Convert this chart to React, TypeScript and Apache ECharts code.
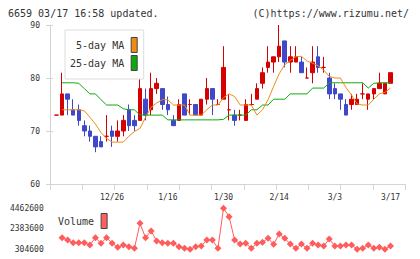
import React, { useEffect, useRef } from "react";
import * as echarts from "echarts";

const dates = ["12/12","12/13","12/16","12/17","12/18","12/19","12/20","12/23","12/24","12/25","12/26","12/27","12/30","1/6","1/7","1/8","1/9","1/10","1/14","1/15","1/16","1/17","1/20","1/21","1/22","1/23","1/24","1/27","1/28","1/29","1/30","1/31","2/3","2/4","2/5","2/6","2/7","2/10","2/12","2/13","2/14","2/17","2/18","2/19","2/20","2/21","2/25","2/26","2/27","2/28","3/3","3/4","3/5","3/6","3/7","3/10","3/11","3/12","3/13","3/14","3/17"];

const labelDates = ["12/26", "1/16", "1/30", "2/14", "3/3", "3/17"];

// [open, close, low, high]
const candles = [
  [73,73,73,73],[73,77,73,81],[77,76,73,77],[74,73,73,76],[74,72,71,75],
  [71,70,69,72],[70,69,68,71],[69,67,66,69],[68,67,67,69],[69,69,68,73],
  [70,69,67,71],[69,70,68,72],[70,72,69,73],[74,71,70,75],[72,71,70,73],
  [72,78,72,81],[76,73,72,78],[74,78,73,81],[78,79,77,80],[78,75,74,78],
  [75,74,73,76.5],[72,71,71,73],[72,75,72,76],[77,73,73,77],[75,75,73,76],
  [75,73,73,75],[73,76,73,76],[76,78,75,80],[78,76,73,78],[75,75,75,76],
  [76,82,76,86],[74,74,72,77],[73,72,71,74],[73,73,72,74],[72,75,72,76],
  [75,75,75,77],[76,78,76,79],[79,81,78,82],[82,83,81,86],[83,84,81,84],
  [84,86,83,90],[87,83,82,87],[83,84,81,86],[83,84,83,86],[83,81,81,84],
  [80,80,80,82],[81,83,79,86],[84,82,81,86],[82,82,81,84],[80,77,76,81],
  [78,77,76,79],[77,76,74,77],[75,73,73,76],[75,76,74,77],[75,76,75,77],
  [77,77,76,79],[76,77,74,77],[77,78,76,78],[78,79,78,81],[77,79,77,79],
  [79,81,79,81],
];

const ma5 = [null,74,74,74,74,73.8,72.6,71.3,69.7,68.6,67.9,67.9,67.9,69,69.9,70.5,72.6,74.5,75.3,75.9,75.9,74.9,74.9,74.9,73,73,73,74,74.9,74.9,76.3,77,76.5,74.9,74.9,74.9,73,74,75.9,78.4,80.8,82.5,83.3,84,84.1,83.2,82.8,82.3,81.5,80.3,80,80,78.2,76.8,75.1,74.9,74.9,76,77,77.3,78.1];

const ma25 = [null,79.1,79.1,79.1,79,78,77,77,75.9,74.9,74.9,74.9,74.2,74,74,73,73,73,73,73,72.1,72.1,72.1,72.1,72.1,72.1,72.1,72.1,72.1,72.1,72.2,73,73,73,73,74,74,74.9,74.9,76,76,76,77,77,77,77,78.1,78.1,78.1,79.1,79.1,79.1,79.1,79.1,79.1,79.1,78.1,79,79.1,79.1,79.1];

const volume = [null,1480000,1250000,974000,970000,960000,740000,1480000,913000,1480000,913000,507000,740000,568000,406000,2940000,1480000,2160000,1146000,974000,913000,913000,568000,406000,304600,568000,639000,1247000,1247000,406000,4462600,3610000,1247000,842000,913000,406000,913000,1014000,1420000,812000,1856000,1420000,842000,406000,842000,406000,913000,740000,639000,1349000,639000,639000,740000,740000,320000,406000,740000,406000,507000,320000,639000];

const volTicks = [304600, 2383600, 4462600];

const headerLeft = "6659 03/17 16:58 updated.";
const headerRight = "(C)https://www.rizumu.net/";

const MONO = "'DejaVu Sans Mono', monospace";
const RED = "#d50000";
const BLUE = "#3f48c8";
const ORANGE = "#f08c14";
const GREEN = "#10a810";
const VOL = "#ff5c5c";
const AXIS = "#d4d4d4";
const TXT = "#333";

export default function App() {
  const ref = useRef<HTMLDivElement>(null);
  useEffect(() => {
    const chart = echarts.init(ref.current!, null, { renderer: "svg" });
    const option: any = {
      animation: false,
      backgroundColor: "#fff",
      textStyle: { fontFamily: MONO },
      graphic: [
        { type: "text", left: 8, top: 8, silent: true,
          style: { text: headerLeft, fontSize: 10, fill: TXT, fontFamily: MONO } },
        { type: "text", right: 11, top: 8, silent: true,
          style: { text: headerRight, fontSize: 10, fill: TXT, fontFamily: MONO } },
      ],
      legend: [
        {
          data: [
            { name: "5-day MA", itemStyle: { color: ORANGE, borderColor: "#444", borderWidth: 1 } },
            { name: "25-day MA", itemStyle: { color: GREEN, borderColor: "#444", borderWidth: 1 } },
          ],
          orient: "vertical", left: 65, top: 30, align: "right", icon: "rect",
          itemWidth: 6, itemHeight: 15, itemGap: 2, padding: [7, 6, 8, 5],
          backgroundColor: "#fff", borderColor: "#ddd", borderWidth: 1,
          selectedMode: false,
          textStyle: { fontSize: 10, color: TXT, fontFamily: MONO, padding: [0, 2, 0, 0] },
        },
        {
          data: [{ name: "Volume", itemStyle: { color: "#ff6060", borderColor: "#444", borderWidth: 1 } }],
          orient: "vertical", left: 58, top: 213, align: "right", icon: "rect",
          itemWidth: 6, itemHeight: 15, padding: 0, selectedMode: false,
          textStyle: { fontSize: 10, color: TXT, fontFamily: MONO, padding: [0, 2, 0, 0] },
        },
      ],
      grid: [
        { left: 53.7, width: 339.6, top: 25, height: 159 },
        { left: 50, width: 355.3, top: 25, height: 159 },
        { left: 53.7, width: 339.6, top: 208.3, height: 41 },
      ],
      xAxis: [
        {
          type: "category", gridIndex: 0, data: dates, boundaryGap: true,
          axisLine: { show: false }, axisTick: { show: false }, splitLine: { show: false },
          axisLabel: {
            interval: (_i: number, v: string) => labelDates.includes(v),
            fontSize: 8, color: TXT, fontFamily: MONO, margin: 9,
          },
        },
        {
          type: "value", gridIndex: 1, min: 0, max: 11, interval: 1,
          axisLine: { show: true, onZero: false, lineStyle: { color: AXIS, width: 1 } },
          axisTick: { show: true, length: 6, lineStyle: { color: AXIS, width: 1 } },
          axisLabel: { show: false }, splitLine: { show: false },
        },
        { type: "category", gridIndex: 2, data: dates, boundaryGap: true, show: false },
      ],
      yAxis: [
        { type: "value", gridIndex: 0, min: 60, max: 90, show: false, splitLine: { show: false } },
        {
          type: "value", gridIndex: 1, min: 60, max: 90, interval: 10, position: "left",
          axisLine: { show: true, onZero: false, lineStyle: { color: AXIS, width: 1 } },
          axisTick: { show: true, length: 4, lineStyle: { color: AXIS, width: 1 } },
          axisLabel: { fontSize: 8, color: TXT, fontFamily: MONO, margin: 10 },
          splitLine: { show: false },
        },
        {
          type: "value", gridIndex: 1, min: 60, max: 90, interval: 10, position: "left",
          axisLine: { show: false },
          axisTick: { show: true, inside: true, length: 3, lineStyle: { color: AXIS, width: 1 } },
          axisLabel: { show: false }, splitLine: { show: false },
        },
        {
          type: "value", gridIndex: 2, min: volTicks[0], max: volTicks[2],
          interval: volTicks[1] - volTicks[0],
          axisLine: { show: false }, axisTick: { show: false }, splitLine: { show: false },
          axisLabel: { fontSize: 8, color: TXT, fontFamily: MONO, margin: 10,
            formatter: (v: number) => String(v) },
        },
      ],
      series: [
        {
          type: "line", name: "25-day MA", xAxisIndex: 0, yAxisIndex: 0, data: ma25,
          symbol: "none", lineStyle: { color: GREEN, width: 1 }, itemStyle: { color: GREEN },
        },
        {
          type: "line", name: "5-day MA", xAxisIndex: 0, yAxisIndex: 0, data: ma5,
          symbol: "none", lineStyle: { color: ORANGE, width: 1 }, itemStyle: { color: ORANGE },
        },
        {
          type: "candlestick", name: "price", xAxisIndex: 0, yAxisIndex: 0, data: candles,
          barWidth: 4,
          itemStyle: {
            color: RED, color0: BLUE, borderColor: RED, borderColor0: BLUE,
            borderColorDoji: RED, borderWidth: 1,
          },
        },
        {
          type: "line", name: "Volume", xAxisIndex: 2, yAxisIndex: 3, data: volume,
          symbol: "diamond", symbolSize: 7, showAllSymbol: true,
          lineStyle: { color: VOL, width: 1 }, itemStyle: { color: VOL },
        },
      ],
    };
    chart.setOption(option);
    return () => chart.dispose();
  }, []);
  return (
    <div
      ref={ref}
      style={{
        position: "fixed", left: 0, top: 0, width: 420, height: 259,
        background: "#fff", zIndex: 2147483647,
      }}
    />
  );
}
